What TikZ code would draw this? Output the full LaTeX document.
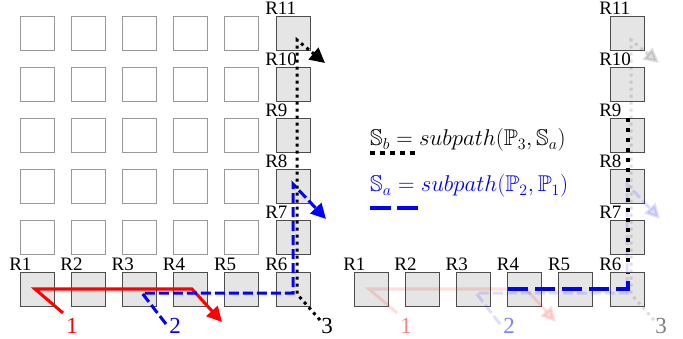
\documentclass[tikz,border=0pt]{standalone}
\usepackage{graphicx}
\usepackage{amssymb}
\usepackage{fontspec}
\setmainfont{Liberation Serif}
\usetikzlibrary{arrows.meta}
\tikzset{
  rbox/.style={draw=black!70, fill=black!10, line width=0.9pt, minimum size=34pt, inner sep=0pt},
  gbox/.style={draw=black!40, fill=white, line width=0.9pt, minimum size=34pt, inner sep=0pt},
  rlab/.style={anchor=base west, inner sep=0pt, font=\fontsize{19}{19}\selectfont, yshift=1.5pt, xshift=-10.5pt},
  nlab/.style={anchor=base, inner sep=0pt, font=\fontsize{23}{23}\selectfont},
  redp/.style={draw=red, line width=3pt, -{Triangle[length=15pt,width=15pt]}},
  bluep/.style={draw=blue, line width=3pt, dash pattern=on 10pt off 4pt, -{Triangle[length=15pt,width=15pt]}},
  blackp/.style={draw=black, line width=3pt, dash pattern=on 3pt off 4pt, -{Triangle[length=15pt,width=15pt]}},
  fade/.style={opacity=0.13},
  lfade/.style={opacity=0.5},
  flab/.style={anchor=base west, inner sep=0pt, font=\fontsize{17.28}{18}\selectfont},
}
\begin{document}
\begin{tikzpicture}[x=1pt,y=-1pt]
\useasboundingbox (0,0) rectangle (683,339);
% gray grid
\foreach \i in {0,...,4}{
  \foreach \k in {1,...,5}{
    \node[gbox] (g\i\k) at ({37+51.2*\i},{289-51.2*\k}) {};
  }
}
% left row
\foreach \i in {1,...,6}{
  \node[rbox] (L\i) at ({37+51.2*(\i-1)},289) {};
  \node[rlab] (LL\i) at (L\i.north west) {R\i};
}
\foreach \k/\n in {1/7,2/8,3/9,4/10,5/11}{
  \node[rbox] (L\n) at (293,{289-51.2*\k}) {};
  \node[rlab] (LL\n) at (L\n.north west) {R\n};
}
% right row
\foreach \i in {1,...,6}{
  \node[rbox] (Q\i) at ({371+51.2*(\i-1)},289) {};
  \node[rlab] (QL\i) at (Q\i.north west) {R\i};
}
\foreach \k/\n in {1/7,2/8,3/9,4/10,5/11}{
  \node[rbox] (Q\n) at (627,{289-51.2*\k}) {};
  \node[rlab] (QL\n) at (Q\n.north west) {R\n};
}
% left paths
\coordinate (a0) at (63,313);
\coordinate (a1) at (35,289);
\coordinate (a2) at (192,289);
\coordinate (a3) at (222,322);
\coordinate (b0) at (166,324);
\coordinate (b1) at (142,293);
\coordinate (b2) at (293,293);
\coordinate (b3) at (293,184);
\coordinate (b4) at (326,219);
\coordinate (c0) at (320,320);
\coordinate (c1) at (297,294);
\coordinate (c2) at (297,40);
\coordinate (c3) at (325,63);
\draw[redp] (a0) -- (a1) -- (a2) -- (a3);
\draw[bluep] (b0) -- (b1) -- (b2) -- (b3) -- (b4);
\draw[blackp] (c0) -- (c1) -- (c2) -- (c3);
\node[nlab, text=red] (n1) at (72,333) {1};
\node[nlab, text=blue] (n2) at (175,333) {2};
\node[nlab] (n3) at (327,333) {3};
% right faded paths
\begin{scope}[xshift=334pt]
\coordinate (ra0) at (63,313);
\coordinate (ra1) at (35,289);
\coordinate (ra2) at (192,289);
\coordinate (ra3) at (222,322);
\coordinate (rb0) at (166,324);
\coordinate (rb1) at (142,293);
\coordinate (rb2) at (293,293);
\coordinate (rb3) at (293,184);
\coordinate (rb4) at (326,219);
\coordinate (rc0) at (320,320);
\coordinate (rc1) at (297,294);
\coordinate (rc2) at (297,40);
\coordinate (rc3) at (325,63);
\draw[redp, fade] (ra0) -- (ra1) -- (ra2) -- (ra3);
\draw[bluep, fade] (rb0) -- (rb1) -- (rb2) -- (rb3) -- (rb4);
\draw[blackp, fade] (rc0) -- (rc1) -- (rc2) -- (rc3);
\node[nlab, text=red, lfade] (rn1) at (72,333) {1};
\node[nlab, text=blue, lfade] (rn2) at (175,333) {2};
\node[nlab, lfade] (rn3) at (327,333) {3};
\end{scope}
% highlighted subpaths
\coordinate (s0) at (508,289);
\coordinate (s1) at (628,289);
\coordinate (s2) at (628,273);
\coordinate (t0) at (628,118);
\coordinate (t1) at (628,266);
\draw[blue, line width=4pt, dash pattern=on 20pt off 7pt] (s0) -- (s1) -- (s2);
\draw[black, line width=4pt, dash pattern=on 4pt off 6pt] (t0) -- (t1);
% legend
\node[flab] (f1) at (370,146) {\scalebox{1.32}{$\mathbb{S}_b = subpath(\mathbb{P}_3,\mathbb{S}_a)$}};
\node[flab, text=blue] (f2) at (370,192) {\scalebox{1.32}{$\mathbb{S}_a = subpath(\mathbb{P}_2,\mathbb{P}_1)$}};
\coordinate (k0) at (370,153);
\coordinate (k1) at (418,153);
\coordinate (m0) at (370,208);
\coordinate (m1) at (418,208);
\draw[black, line width=4pt, dash pattern=on 4.5pt off 5.5pt] (k0) -- (k1);
\draw[blue, line width=4pt, dash pattern=on 21pt off 6pt] (m0) -- (m1);
\end{tikzpicture}
\end{document}
